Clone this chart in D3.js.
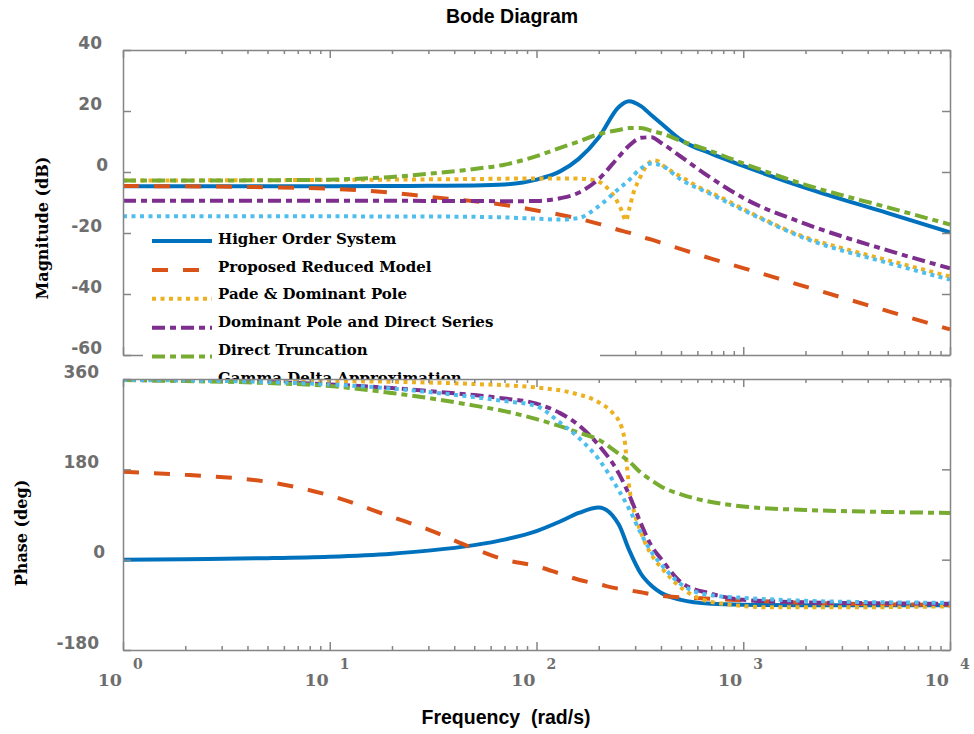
<!DOCTYPE html>
<html>
<head>
<meta charset="utf-8">
<script src="https://cdn.jsdelivr.net/npm/d3@7/dist/d3.min.js"></script>
<style>
  body { margin: 0; background: #fff; }
  svg { display: block; }
</style>
</head>
<body>
<svg id="chart"></svg>
<script>
const width = 974;
const height = 734;

// frequency grid (rad/s) shared by most series
const freq = [1, 2, 5, 10, 20, 30, 50, 70, 100, 130, 160, 200, 250, 280, 320, 360, 400, 500, 700, 1000, 2000, 5000, 10000];

// magnitude (dB)
const magHigher   = [-4.7, -4.7, -4.7, -4.7, -4.6, -4.5, -4.4, -4.1, -2.5, 0.2, 4.3, 11.3, 21.3, 23.2, 21.6, 18.6, 16.0, 10.5, 6.0, 2.0, -5.2, -13.5, -19.8];
const magProposed = [-4.6, -4.7, -5.0, -5.5, -6.8, -8.1, -9.6, -10.8, -12.6, -14.0, -15.3, -17.0, -19.0, -19.9, -21.2, -22.2, -23.2, -25.3, -28.4, -31.5, -37.6, -45.6, -51.6];
const magDominant = [-9.4, -9.4, -9.4, -9.4, -9.4, -9.5, -9.5, -9.6, -9.5, -8.6, -6.8, -2.3, 5.0, 8.6, 11.2, 11.4, 9.6, 5.0, -2.0, -8.5, -17.0, -25.7, -31.6];
const magDirect   = [-2.8, -2.8, -2.7, -2.5, -1.6, -0.6, 1.0, 2.4, 5.2, 7.9, 10.0, 12.4, 13.8, 14.4, 14.4, 13.5, 12.7, 10.2, 6.8, 2.8, -4.2, -11.6, -17.2];
const magGamma    = [-14.5, -14.5, -14.5, -14.5, -14.6, -14.6, -14.7, -14.9, -15.3, -15.6, -15.1, -11.2, -5.5, -2.7, 1.2, 2.8, 2.2, -2.5, -7.3, -12.5, -21.8, -29.8, -35.3];

// phase (deg)
const phHigher   = [0, 1, 3, 6, 12, 18, 29, 40, 57, 76, 93, 104, 70, 20, -28, -52, -66, -80, -88, -90, -91, -91, -91];
const phProposed = [175, 169, 155, 128, 85, 60, 22, 0, -13, -28, -40, -49, -58, -61, -65, -69, -72, -75, -78, -81, -86, -89, -90];
const phDominant = [358, 357, 354, 349, 342, 336, 328, 321, 311, 292, 268, 228, 172, 130, 72, 27, 2, -45, -68, -80, -85, -87, -88];
const phDirect   = [358, 356, 352, 346, 332, 322, 307, 296, 280, 266, 253, 239, 211, 196, 173, 158, 146, 130, 115, 106, 99, 95, 93];
const phGamma    = [358, 357, 354, 349, 341, 334, 324, 316, 306, 273, 243, 200, 138, 102, 52, 15, -9, -49, -71, -76, -82, -85, -86];

// Pade & Dominant Pole has a sharp notch, so it keeps its own frequencies
const padeMagFreq = [1, 10, 50, 100, 150, 187, 210, 226, 245, 258, 271, 280, 294, 317, 341, 366, 385, 410, 537, 617, 746, 1080, 1888, 3290, 5740, 10000];
const padeMag     = [-2.8, -2.6, -2.3, -2.1, -2.1, -2.6, -4, -6.1, -9.5, -12.6, -16, -12.5, -7, -1.8, 2.1, 3.8, 3.6, 2.1, -2.8, -5.2, -7.7, -13.3, -20.8, -25.7, -30, -34.3];
const padePhFreq  = [1, 10, 50, 100, 150, 203, 234, 258, 268, 275, 283, 290, 303, 317, 340, 366, 410, 456, 595, 835, 1400, 3000, 10000];
const padePhase   = [358, 356, 350, 343, 332, 312, 292, 264, 232, 178, 135, 112, 82, 59, 28, 5, -20, -41, -75, -89, -95, -95, -93];

const names = ["Higher Order System", "Proposed Reduced Model", "Pade & Dominant Pole",
               "Dominant Pole and Direct Series", "Direct Truncation", "Gamma Delta Approximation"];
const magTicks = [-60, -40, -20, 0, 20, 40];
const phaseTicks = [-180, 0, 180, 360];
const decades = [1, 10, 100, 1000, 10000];
const exponents = ["0", "1", "2", "3", "4"];

const zip = (f, v) => f.map((d, i) => [d, v[i]]);

const series = [
  { name: names[0], color: "#0072BD", dash: null,       mag: zip(freq, magHigher),   ph: zip(freq, phHigher) },
  { name: names[1], color: "#D95319", dash: "16,15",    mag: zip(freq, magProposed), ph: zip(freq, phProposed) },
  { name: names[2], color: "#EDB120", dash: "4,4.5",    mag: zip(padeMagFreq, padeMag), ph: zip(padePhFreq, padePhase) },
  { name: names[3], color: "#7E2F8E", dash: "13,5,6,5", mag: zip(freq, magDominant), ph: zip(freq, phDominant) },
  { name: names[4], color: "#77AC30", dash: "13,5,6,5", mag: zip(freq, magDirect),   ph: zip(freq, phDirect) },
  { name: names[5], color: "#4DBEEE", dash: "4,4.5",    mag: zip(freq, magGamma),    ph: zip(freq, phGamma) }
];

const svg = d3.select("#chart")
    .attr("width", width)
    .attr("height", height);

const x = d3.scaleLog().domain([1, 10000]).range([123, 950]);
const yMag = d3.scaleLinear().domain([-60, 40]).range([355, 50]);
const yPh = d3.scaleLinear().domain([-180, 360]).range([650, 379]);

// all log ticks 1..9 per decade
const logTicks = [];
for (let d = 0; d < 4; d++) {
  for (let m = 1; m < 10; m++) logTicks.push(m * Math.pow(10, d));
}
logTicks.push(10000);
const isMajor = v => Math.abs(Math.log10(v) - Math.round(Math.log10(v))) < 1e-9;

const axisColor = "#858585";
const labelColor = "#6e6e6e";

function drawPanel(id, yScale, yTicks, seriesKey, pad) {
  const [y0, y1] = yScale.range(); // bottom, top
  const g = svg.append("g").attr("id", id);

  g.append("rect")
    .attr("x", 123).attr("y", y1)
    .attr("width", 950 - 123).attr("height", y0 - y1)
    .attr("fill", "#fff");

  svg.append("clipPath").attr("id", id + "-clip")
    .append("rect")
    .attr("x", 123).attr("y", y1)
    .attr("width", 950 - 123).attr("height", y0 - y1);

  const line = d3.line()
    .x(d => x(d[0]))
    .y(d => yScale(d[1]))
    .curve(d3.curveMonotoneX);

  g.append("g")
    .attr("clip-path", `url(#${id}-clip)`)
    .selectAll("path")
    .data(series)
    .enter()
    .append("path")
    .attr("d", d => line(d[seriesKey]))
    .attr("fill", "none")
    .attr("stroke", d => d.color)
    .attr("stroke-width", 4)
    .attr("stroke-dasharray", d => d.dash);

  // x ticks, top and bottom, pointing inward
  const xTop = d3.axisTop(x).tickValues(logTicks).tickSizeInner(-8).tickSizeOuter(0).tickFormat("");
  const xBot = d3.axisBottom(x).tickValues(logTicks).tickSizeInner(-8).tickSizeOuter(0).tickFormat("");
  g.append("g").attr("class", "xtop").attr("transform", `translate(0,${y1})`).call(xTop);
  g.append("g").attr("class", "xbot").attr("transform", `translate(0,${y0})`).call(xBot);
  g.selectAll(".xtop .tick line").attr("y2", d => isMajor(d) ? 8 : 4);
  g.selectAll(".xbot .tick line").attr("y2", d => isMajor(d) ? -8 : -4);

  // y ticks, left with labels, right without
  const yLeft = d3.axisLeft(yScale).tickValues(yTicks).tickSizeInner(-8).tickSizeOuter(0)
    .tickPadding(pad).tickFormat(d => String(d));
  const yRight = d3.axisRight(yScale).tickValues(yTicks).tickSizeInner(-8).tickSizeOuter(0).tickFormat("");
  g.append("g").attr("class", "yleft").attr("transform", "translate(123,0)").call(yLeft);
  g.append("g").attr("class", "yright").attr("transform", "translate(950,0)").call(yRight);

  g.selectAll(".domain").attr("stroke", axisColor).attr("stroke-width", 1.5);
  g.selectAll(".tick line").attr("stroke", axisColor).attr("stroke-width", 1.5);
  g.selectAll(".yleft text")
    .attr("fill", labelColor)
    .attr("font-family", "'DejaVu Sans', sans-serif")
    .attr("font-weight", "bold")
    .attr("font-size", 17)
    .attr("dx", d => d === 0 ? 6 : 0)
    .attr("dy", "-0.1em");
  return g;
}

drawPanel("mag", yMag, magTicks, "mag", 21);

// legend (sits over the lower part of the magnitude panel)
const legend = svg.append("g").attr("id", "legend");
legend.append("rect")
  .attr("x", 143).attr("y", 226)
  .attr("width", 457).attr("height", 170)
  .attr("fill", "#fff");

const entry = legend.selectAll(".entry")
  .data(series)
  .enter()
  .append("g")
  .attr("class", "entry");

entry.append("line")
  .attr("x1", 152).attr("x2", 212)
  .attr("y1", (d, i) => 241 + i * 28.9)
  .attr("y2", (d, i) => 241 + i * 28.9)
  .attr("stroke", d => d.color)
  .attr("stroke-width", 4)
  .attr("stroke-dasharray", d => d.dash);

entry.append("text")
  .attr("x", 218)
  .attr("y", (d, i) => 244 + i * 27.7)
  .attr("font-family", "'DejaVu Serif', serif")
  .attr("font-weight", "bold")
  .attr("font-size", 15)
  .attr("fill", "#000")
  .text(d => d.name);

drawPanel("phase", yPh, phaseTicks, "ph", 24);

// x tick labels 10^k
const xl = svg.append("g").attr("id", "xlabels");
const xlab = xl.selectAll("g").data(decades).enter().append("g");
xlab.append("text")
  .attr("x", d => x(d) - 1)
  .attr("y", 686)
  .attr("text-anchor", "end")
  .attr("font-family", "'DejaVu Serif', serif")
  .attr("font-weight", "bold")
  .attr("font-size", 17.5)
  .attr("fill", labelColor)
  .text("10");
xlab.append("text")
  .attr("x", d => x(d) + 10)
  .attr("y", 669)
  .attr("font-family", "'DejaVu Serif', serif")
  .attr("font-weight", "bold")
  .attr("font-size", 14)
  .attr("fill", labelColor)
  .text((d, i) => exponents[i]);

// titles
svg.append("text")
  .attr("x", 512).attr("y", 23)
  .attr("text-anchor", "middle")
  .attr("font-family", "'Liberation Sans Narrow', 'Liberation Sans', sans-serif")
  .attr("font-weight", "bold")
  .attr("font-size", 19.5)
  .text("Bode Diagram");

svg.append("text")
  .attr("x", 506).attr("y", 724)
  .attr("text-anchor", "middle")
  .attr("font-family", "'Liberation Sans Narrow', 'Liberation Sans', sans-serif")
  .attr("font-weight", "bold")
  .attr("font-size", 19.5)
  .style("white-space", "pre")
  .text("Frequency  (rad/s)");

svg.append("text")
  .attr("transform", "translate(48,228) rotate(-90)")
  .attr("text-anchor", "middle")
  .attr("font-family", "'DejaVu Serif', serif")
  .attr("font-weight", "bold")
  .attr("font-size", 16)
  .text("Magnitude (dB)");

svg.append("text")
  .attr("transform", "translate(27,533) rotate(-90)")
  .attr("text-anchor", "middle")
  .attr("font-family", "'DejaVu Serif', serif")
  .attr("font-weight", "bold")
  .attr("font-size", 16)
  .text("Phase (deg)");
</script>
</body>
</html>
